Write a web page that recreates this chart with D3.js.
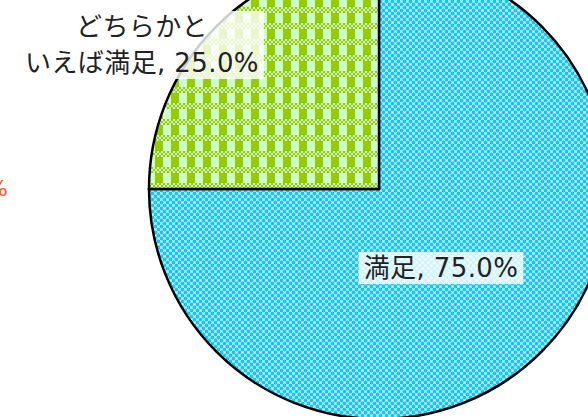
<!DOCTYPE html>
<html>
<head>
<meta charset="utf-8">
<script src="https://cdn.jsdelivr.net/npm/d3@7"></script>
<style>
  body { margin: 0; background: #fff; }
  svg { display: block; }
  text { font-family: "DejaVu Sans", "Noto Sans CJK JP", sans-serif; }
</style>
</head>
<body>
<svg id="chart" width="588" height="417"></svg>
<script>
// data
let categories = ['満足', 'どちらかといえば満足'];
let values = [75.0, 25.0];
let labelLines = [['満足, 75.0%'], ['どちらかと', 'いえば満足, 25.0%']];
let strayLabel = '%';

let width = 588, height = 417;
let cx = 379, cy = 189, radius = 230;

let svg = d3.select('#chart');
let defs = svg.append('defs');

// blue small check pattern
let blue = defs.append('pattern')
  .attr('id', 'patBlue')
  .attr('patternUnits', 'userSpaceOnUse')
  .attr('width', 6).attr('height', 6);
blue.append('rect').attr('width', 6).attr('height', 6).style('fill', '#14c6f4');
blue.append('rect').attr('x', 0).attr('y', 0).attr('width', 3).attr('height', 3).style('fill', '#8ee4fb');
blue.append('rect').attr('x', 3).attr('y', 3).attr('width', 3).attr('height', 3).style('fill', '#8ee4fb');
blue.append('rect').attr('x', 1).attr('y', 1).attr('width', 1).attr('height', 1).style('fill', '#ffffff');
blue.append('rect').attr('x', 4).attr('y', 4).attr('width', 1).attr('height', 1).style('fill', '#ffffff');

// green plaid pattern
let green = defs.append('pattern')
  .attr('id', 'patGreen')
  .attr('patternUnits', 'userSpaceOnUse')
  .attr('width', 16).attr('height', 16);
green.append('rect').attr('width', 16).attr('height', 16).style('fill', '#ccffcc');
green.append('rect').attr('x', 0).attr('y', 0).attr('width', 8).attr('height', 10).style('fill', '#99cc00');
for (let i = 0; i < 8; i++) {
  for (let j = 0; j < 3; j++) {
    if ((i + j) % 2 == 0) {
      green.append('rect')
        .attr('x', i * 2).attr('y', 10 + j * 2)
        .attr('width', 2).attr('height', 2)
        .style('fill', '#99cc00');
    }
  }
}

let pie = d3.pie().sort(null).value(d => d.value);
let arc = d3.arc().innerRadius(0).outerRadius(radius);

let pieData = pie(categories.map((c, i) => ({name: c, value: values[i]})));
let fills = ['url(#patBlue)', 'url(#patGreen)'];

let g = svg.append('g').attr('transform', `translate(${cx},${cy})`);

g.selectAll('path.slice')
  .data(pieData)
  .enter()
  .append('path')
  .attr('class', 'slice')
  .attr('d', arc)
  .style('fill', (d, i) => fills[i])
  .style('stroke', '#000')
  .style('stroke-width', '2.5px')
  .style('stroke-linejoin', 'miter');

// label positions (relative to pie centre)
let labelPos = [[62, 88], [-237, -153]];
let lineH = 36;
let fontSize = 26;

let labels = g.selectAll('g.label')
  .data(pieData)
  .enter()
  .append('g')
  .attr('class', 'label')
  .attr('transform', (d, i) => `translate(${labelPos[i][0]},${labelPos[i][1]})`);

labels.each(function(d, i) {
  let lg = d3.select(this);
  let lines = labelLines[i];
  let t = lg.append('text')
    .attr('text-anchor', 'middle')
    .style('font-size', fontSize + 'px')
    .style('letter-spacing', '0.4px')
    .style('fill', '#222');
  lines.forEach((l, k) => {
    t.append('tspan').attr('x', 0).attr('y', k * lineH).text(l);
  });
  let bb = t.node().getBBox();
  lg.insert('rect', 'text')
    .attr('x', bb.x - 5)
    .attr('y', bb.y - 1)
    .attr('width', bb.width + 10)
    .attr('height', bb.height + 2)
    .style('fill', '#fff')
    .style('fill-opacity', 0.8);
});

// clipped label from a neighbouring chart
svg.append('text')
  .attr('x', 8)
  .attr('y', 196)
  .attr('text-anchor', 'end')
  .style('font-size', '22px')
  .style('fill', '#ff5a1e')
  .text(strayLabel);
</script>
</body>
</html>
